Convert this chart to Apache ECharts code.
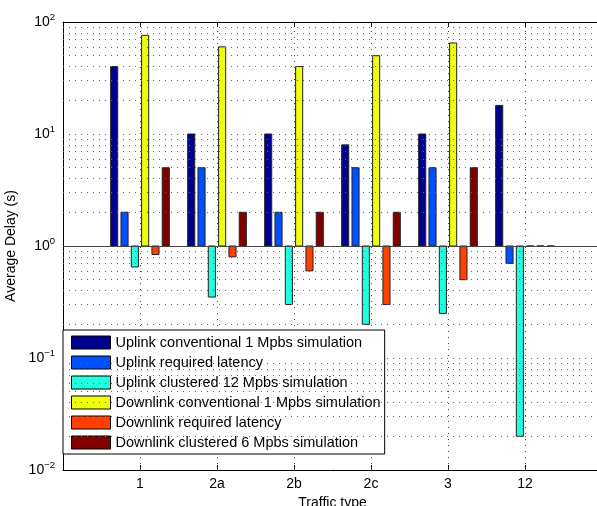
<!DOCTYPE html>
<html>
<head>
<meta charset="utf-8">
<script src="https://cdn.jsdelivr.net/npm/echarts@6/dist/echarts.min.js"></script>
<style>
  html, body { margin: 0; padding: 0; background: #fff; }
  #chart { width: 597px; height: 506px; }
</style>
</head>
<body>
<div id="chart"></div>
<script>
// categories (padding slots at both ends keep the x range 0..7 like the original)
const categories = ['', '1', '2a', '2b', '2c', '3', '12', '']
const seriesNames = [
  'Uplink conventional 1 Mpbs simulation',
  'Uplink required latency',
  'Uplink clustered 12 Mpbs simulation',
  'Downlink conventional 1 Mpbs simulation',
  'Downlink required latency',
  'Downlink clustered 6 Mpbs simulation'
]
// values per traffic type 1, 2a, 2b, 2c, 3, 12
const uplinkConv = [40, 10, 10, 8, 10, 18]
const uplinkReq = [2, 5, 2, 5, 5, 0.7]
const uplinkClust = [0.65, 0.35, 0.3, 0.2, 0.25, 0.02]
const downlinkConv = [76, 60, 40, 50, 65, 1]
const downlinkReq = [0.84, 0.8, 0.6, 0.3, 0.5, 1]
const downlinkClust = [5, 2, 2, 2, 5, 1]
const colors = ['#00008f', '#0050ff', '#20ffdf', '#efff10', '#ff4000', '#800000']
// minor log grid values
const minorTicks = []
;[0.01, 0.1, 1, 10].forEach(function (d) {
  for (let k = 2; k <= 9; k++) minorTicks.push(+(d * k).toPrecision(3))
})

const allValues = [uplinkConv, uplinkReq, uplinkClust, downlinkConv, downlinkReq, downlinkClust]

const font = 'Liberation Sans, Arial, Helvetica, sans-serif'
const dotted = { type: [1, 5], color: '#666', width: 1 }

function makeRender(idx) {
  return function (params, api) {
    const cat = api.value(0)
    const v = api.value(1)
    const band = api.coord([1, 1])[0] - api.coord([0, 1])[0]
    const base = api.coord([cat, 1])
    const top = api.coord([cat, v])
    const w = band * 0.092
    const cx = base[0] + (idx - 2.5) * band * 0.134
    return {
      type: 'rect',
      shape: {
        x: cx - w / 2,
        y: Math.min(base[1], top[1]),
        width: w,
        height: Math.abs(top[1] - base[1])
      },
      style: api.style({ stroke: '#222', lineWidth: 1 })
    }
  }
}

const series = allValues.map(function (vals, idx) {
  return {
    name: seriesNames[idx],
    type: 'custom',
    renderItem: makeRender(idx),
    itemStyle: { color: colors[idx] },
    encode: { x: 0, y: 1 },
    data: vals.map(function (v, i) { return [i + 1, v] }),
    z: 3
  }
})

// vertical dotted grid at each traffic type
series.push({
  type: 'custom',
  silent: true,
  z: 1,
  encode: { x: 0, y: 1 },
  data: [1, 2, 3, 4, 5, 6].map(function (i) { return [i, 1] }),
  renderItem: function (params, api) {
    const a = api.coord([api.value(0), 0.01])
    const b = api.coord([api.value(0), 100])
    const x = Math.round(a[0]) + 0.5
    return {
      type: 'line',
      shape: { x1: x, y1: a[1], x2: x, y2: b[1] },
      style: { stroke: '#444', lineWidth: 1, lineDash: [1, 5] }
    }
  }
})

// minor grid + baseline
series.push({
  type: 'line',
  data: [],
  silent: true,
  z: 1,
  markLine: {
    silent: true,
    symbol: 'none',
    label: { show: false },
    lineStyle: dotted,
    data: minorTicks.map(function (v) { return { yAxis: v } })
  }
})
series.push({
  type: 'line',
  data: [],
  silent: true,
  z: 4,
  markLine: {
    silent: true,
    symbol: 'none',
    label: { show: false },
    lineStyle: { type: 'solid', color: '#444', width: 1 },
    data: [{ yAxis: 1 }]
  }
})

const chart = echarts.init(document.getElementById('chart'))
const option = {
  animation: false,
  color: colors,
  textStyle: { fontFamily: font },
  grid: { left: 63, right: -5, top: 22, bottom: 36, outerBoundsMode: 'none', containLabel: false },
  legend: {
    data: seriesNames,
    orient: 'vertical',
    left: 63,
    top: 330,
    icon: 'rect',
    itemWidth: 39,
    itemHeight: 13,
    itemGap: 5,
    padding: [5, 4, 4, 8],
    backgroundColor: '#fff',
    borderColor: '#000',
    borderWidth: 1,
    borderRadius: 0,
    itemStyle: { borderColor: '#000', borderWidth: 1 },
    textStyle: { fontSize: 14.5, color: '#000', fontFamily: font },
    selectedMode: false
  },
  xAxis: [{
    type: 'category',
    data: categories,
    boundaryGap: false,
    name: 'Traffic type',
    nameLocation: 'middle',
    nameGap: 21,
    nameTextStyle: { fontSize: 14, color: '#000' },
    axisLine: { lineStyle: { color: '#000', width: 1 } },
    axisTick: { inside: true, length: 5, lineStyle: { color: '#000' }, interval: 0 },
    axisLabel: { fontSize: 14, color: '#000', margin: 7, interval: 0 },
    splitLine: { show: false }
  }, {
    type: 'category',
    data: categories,
    boundaryGap: false,
    position: 'top',
    axisLine: { lineStyle: { color: '#000', width: 1 } },
    axisTick: { inside: true, length: 5, lineStyle: { color: '#000' }, interval: 0 },
    axisLabel: { show: false },
    splitLine: { show: false }
  }],
  yAxis: {
    type: 'log',
    logBase: 10,
    min: 0.01,
    max: 100,
    name: 'Average Delay (s)',
    nameLocation: 'middle',
    nameGap: 40,
    nameTextStyle: { fontSize: 14, color: '#000' },
    axisLine: { show: true, lineStyle: { color: '#000', width: 1 } },
    axisTick: { inside: true, length: 5, lineStyle: { color: '#000' } },
    axisLabel: {
      margin: 8,
      formatter: function (v) {
        const e = Math.round(Math.log10(v))
        return '{a|10}{b|' + (e < 0 ? '\u2212' + (-e) : e) + '}'
      },
      rich: {
        a: { fontSize: 14, color: '#000', fontFamily: font },
        b: { fontSize: 9.5, color: '#000', fontFamily: font, padding: [0, 0, 10, 0] }
      }
    },
    splitLine: { show: true, lineStyle: dotted }
  },
  series: series
}
chart.setOption(option)
window.addEventListener('resize', function () {
  chart.resize()
})
</script>
</body>
</html>
